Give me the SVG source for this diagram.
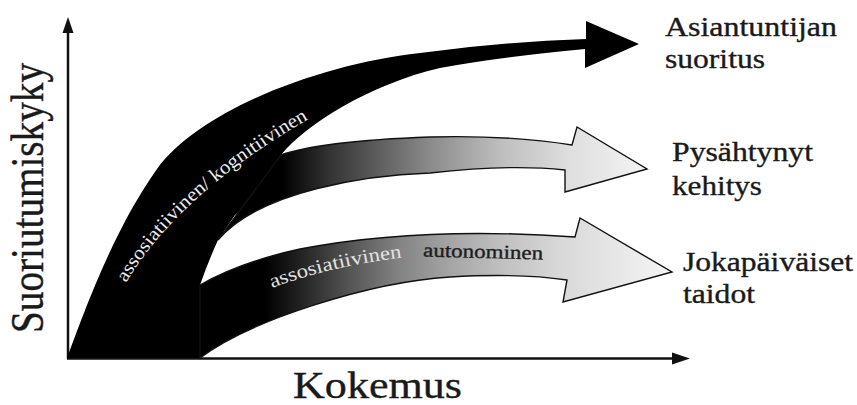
<svg xmlns="http://www.w3.org/2000/svg" width="857" height="405" viewBox="0 0 857 405">
  <style>
    text { font-family: "Liberation Serif", "Times New Roman", serif; }
    .axis { stroke: #111; stroke-width: 2.5; fill: none; }
    .band { stroke: #111; stroke-width: 1.4; stroke-linejoin: miter; }
    .heavy { stroke: #1a1a1a; stroke-width: 0.35; }
  </style>
  <defs>
    <linearGradient id="gradMid" gradientUnits="userSpaceOnUse" x1="282" y1="0" x2="650" y2="0">
      <stop offset="0" stop-color="#000"/>
      <stop offset="0.13" stop-color="#333"/>
      <stop offset="0.40" stop-color="#8a8a8a"/>
      <stop offset="0.59" stop-color="#bdbdbd"/>
      <stop offset="0.78" stop-color="#dedede"/>
      <stop offset="1" stop-color="#f5f5f5"/>
    </linearGradient>
    <linearGradient id="gradLow" gradientUnits="userSpaceOnUse" x1="265" y1="0" x2="672" y2="0">
      <stop offset="0" stop-color="#000"/>
      <stop offset="0.086" stop-color="#222"/>
      <stop offset="0.209" stop-color="#555"/>
      <stop offset="0.33" stop-color="#838383"/>
      <stop offset="0.455" stop-color="#a5a5a5"/>
      <stop offset="0.577" stop-color="#bfbfbf"/>
      <stop offset="0.725" stop-color="#d8d8d8"/>
      <stop offset="1" stop-color="#f5f5f5"/>
    </linearGradient>
    <path id="curveUpper" d="M 126,283 Q 180,192 314,116"/>
    <path id="curveLower" d="M 272,288 Q 330,266 406,257"/>
  </defs>

  <rect width="857" height="405" fill="#fff"/>

  <!-- axes -->
  <g id="axes">
    <line class="axis" x1="68" y1="358.5" x2="68" y2="30"/>
    <polygon points="68,17 62.5,33 73.5,33" fill="#111"/>
    <line class="axis" x1="67" y1="358.5" x2="675" y2="358.5"/>
    <polygon points="690,358.5 672,352.5 672,364.5" fill="#111"/>
  </g>

  <!-- black trunk and expert-performance arrow -->
  <g id="band-expert">
    <path fill="#000" d="M 67,358
      C 82,318 112,232 157,169
      C 200,110 320,64 420,53
      Q 500,42 586,39
      L 586,21 L 639,44 L 585,68 L 585,49
      Q 500,57 440,68
      C 370,84 305,125 281,155
      L 295,168 L 235,215 L 218,240
      Q 208,262 200,285
      L 212,300 L 200,358 Z"/>
  </g>

  <!-- arrested development arrow -->
  <g id="band-arrested">
    <path class="band" fill="url(#gradMid)" d="M 281,155
      Q 320,141 430,137
      Q 510,135 572,145
      L 577,127 L 647,169 L 565,192 L 565,170
      Q 510,164 430,173
      C 370,175 260,190 218,240 Z"/>
  </g>

  <!-- everyday skills arrow -->
  <g id="band-everyday">
    <path class="band" fill="url(#gradLow)" d="M 200,285
      Q 240,262 300,249
      Q 420,226 575,237
      L 580,218 L 672,272 L 563,302 L 567,280
      Q 520,273 450,277
      C 370,282 250,320 200,358 Z"/>
  </g>

  <!-- labels inside the bands -->
  <g id="band-labels" font-size="19.5">
    <text fill="#ececec"><textPath href="#curveUpper" textLength="248" lengthAdjust="spacingAndGlyphs">assosiatiivinen/ kognitiivinen</textPath></text>
    <text fill="#e2e2e2"><textPath href="#curveLower" textLength="134" lengthAdjust="spacingAndGlyphs">assosiatiivinen</textPath></text>
    <text fill="#1e1e1e" class="heavy" x="423" y="258" textLength="120" lengthAdjust="spacingAndGlyphs" transform="rotate(1.5 483 258)">autonominen</text>
  </g>

  <!-- outcome labels -->
  <g id="outcome-labels" font-size="27" fill="#1a1a1a" class="heavy">
    <text x="665" y="36" textLength="172" lengthAdjust="spacingAndGlyphs">Asiantuntijan</text>
    <text x="665" y="68" textLength="100" lengthAdjust="spacingAndGlyphs">suoritus</text>
    <text x="672" y="161" textLength="141" lengthAdjust="spacingAndGlyphs">Pysähtynyt</text>
    <text x="672" y="195" textLength="90" lengthAdjust="spacingAndGlyphs">kehitys</text>
    <text x="683" y="271" textLength="170" lengthAdjust="spacingAndGlyphs">Jokapäiväiset</text>
    <text x="683" y="303" textLength="72" lengthAdjust="spacingAndGlyphs">taidot</text>
  </g>

  <!-- axis titles -->
  <g id="axis-titles" fill="#1a1a1a" class="heavy">
    <text x="293" y="398" font-size="38" textLength="169" lengthAdjust="spacingAndGlyphs">Kokemus</text>
    <text font-size="39" transform="translate(43 333) scale(1.17 1) rotate(-90)" textLength="270" lengthAdjust="spacingAndGlyphs">Suoriutumiskyky</text>
  </g>
</svg>
